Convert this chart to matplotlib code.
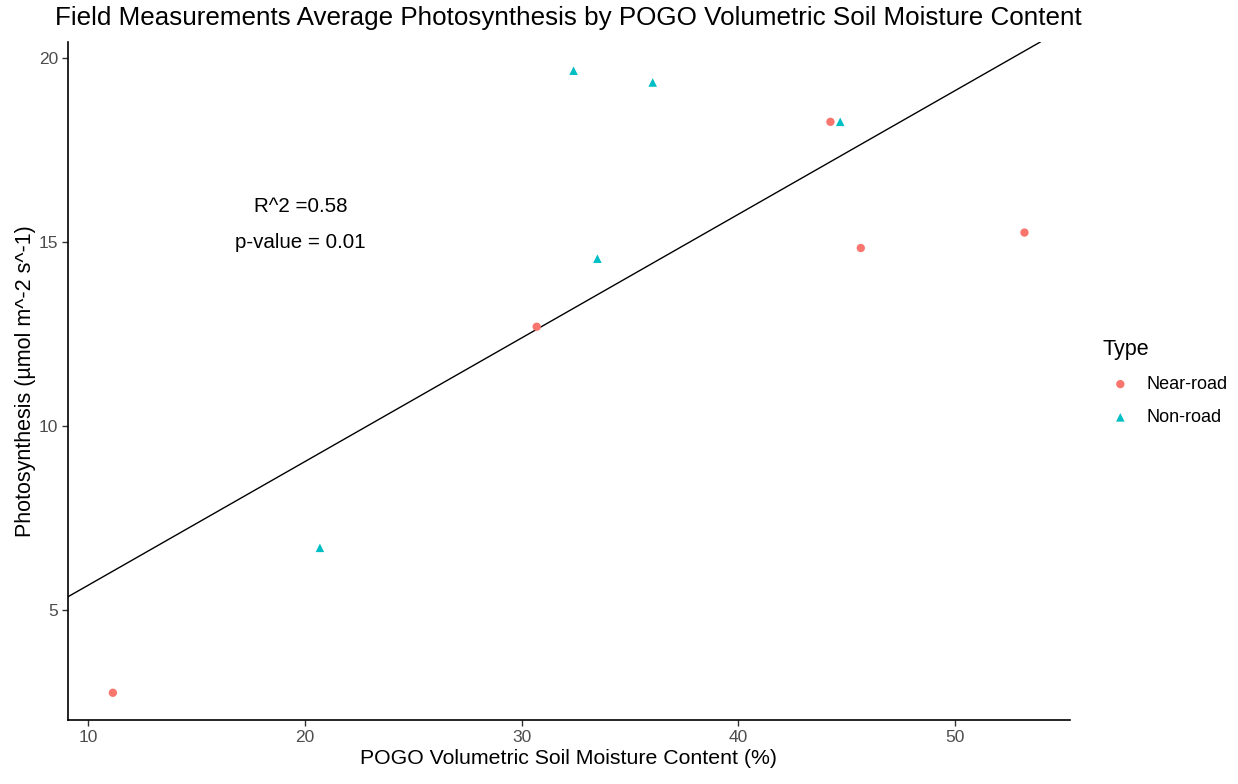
import numpy as np
import matplotlib
matplotlib.use("Agg")
import matplotlib.pyplot as plt

plt.rcParams['font.family'] = ['Liberation Sans', 'DejaVu Sans']

near_x = [11.15, 30.7, 44.25, 45.65, 53.2]
near_y = [2.74, 12.69, 18.26, 14.83, 15.25]
non_x = [32.4, 36.05, 44.7, 33.5, 20.7]
non_y = [19.65, 19.33, 18.26, 14.54, 6.68]

line_x = [9.08, 53.93]
line_y = [5.35, 20.43]

xticks = [10, 20, 30, 40, 50]
yticks = [5, 10, 15, 20]

fig = plt.figure(figsize=(12.38, 7.84), dpi=100)
ax = fig.add_axes([68/1238, 1-720/784, (1070-68)/1238, (720-42)/784])

ax.plot(line_x, line_y, color='black', lw=1.0, zorder=1)
ax.scatter(near_x, near_y, marker='o', s=36, color='#F8766D', edgecolors='none', label='Near-road', zorder=3)
ax.scatter(non_x, non_y, marker='^', s=38, color='#00BFC4', edgecolors='none', label='Non-road', zorder=3)

ax.text(19.8, 15.95, 'R^2 =0.58', ha='center', va='center', fontsize=14.8, color='black')
ax.text(19.8, 14.97, 'p-value = 0.01', ha='center', va='center', fontsize=14.8, color='black')

ax.set_xlim(9.08, 55.3)
ax.set_ylim(2.0, 20.43)
ax.set_xticks(xticks)
ax.set_yticks(yticks)
ax.tick_params(axis='both', labelcolor='#4D4D4D', labelsize=12.5, length=4, width=1, color='#333333', pad=3)
for s in ['top', 'right']:
    ax.spines[s].set_visible(False)
for s in ['left', 'bottom']:
    ax.spines[s].set_linewidth(1.2)

ax.set_xlabel('POGO Volumetric Soil Moisture Content (%)', fontsize=15.3, labelpad=3)
ax.set_ylabel('Photosynthesis (µmol m^-2 s^-1)', fontsize=15.5, labelpad=2)
fig.text(55/1238, 1-18/784, 'Field Measurements Average Photosynthesis by POGO Volumetric Soil Moisture Content',
         fontsize=18.7, ha='left', va='center')

leg = ax.legend(title='Type', loc='center left', bbox_to_anchor=(1.025, 0.498), frameon=False,
                fontsize=13, title_fontsize=15.5, handletextpad=0.45, markerscale=1.0,
                labelspacing=0.9, borderaxespad=0)
leg._legend_box.align = 'left'

fig.savefig('out.png', dpi=100)
